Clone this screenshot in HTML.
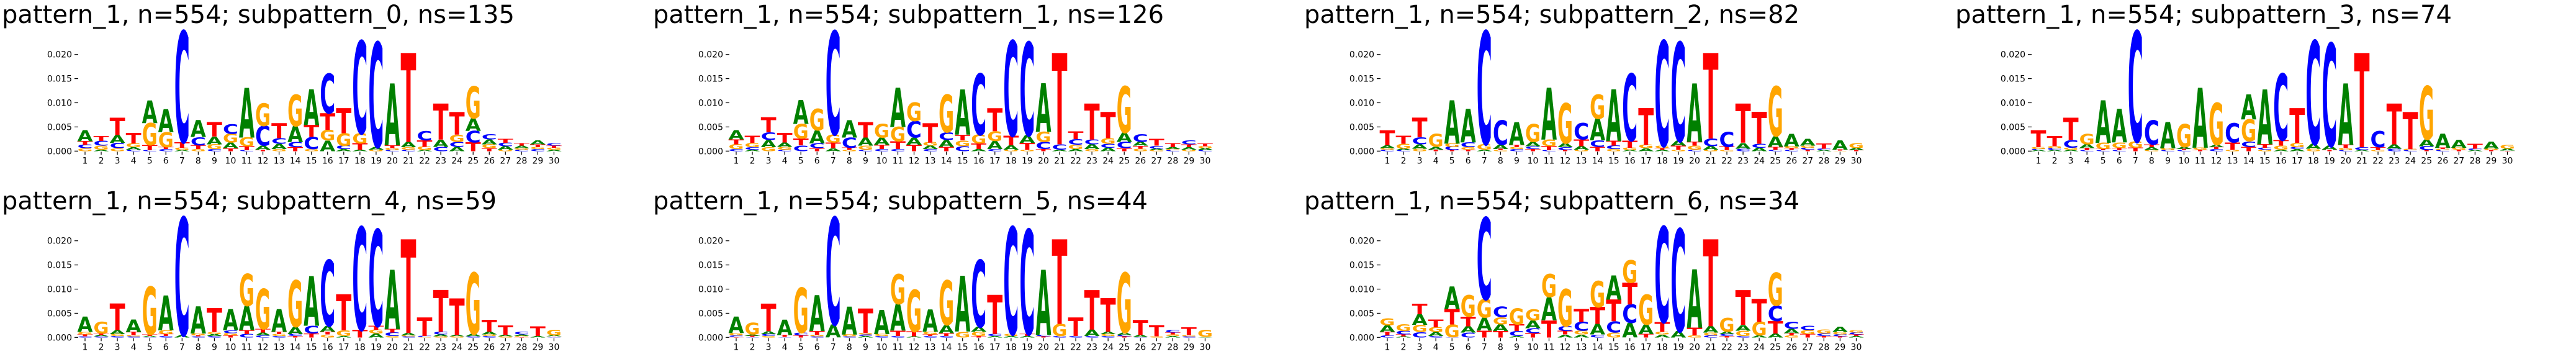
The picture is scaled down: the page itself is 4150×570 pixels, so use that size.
<!DOCTYPE html>
<html><head><meta charset="utf-8">
<style>
html,body{margin:0;padding:0;background:#fff;width:4150px;height:570px;overflow:hidden;}
svg{display:block;overflow:hidden;}
text{font-family:"DejaVu Sans","Liberation Sans",sans-serif;}
</style></head>
<body>
<svg id="chart" width="4150" height="570" viewBox="0 0 4150 570" xmlns="http://www.w3.org/2000/svg"></svg>
<script>
const positions = [1,2,3,4,5,6,7,8,9,10,11,12,13,14,15,16,17,18,19,20,21,22,23,24,25,26,27,28,29,30];
const yTicks = [0, 0.005, 0.010, 0.015, 0.020];
const yTickLabels = ["0.000","0.005","0.010","0.015","0.020"];
const titles = [
 "pattern_1, n=554; subpattern_0, ns=135",
 "pattern_1, n=554; subpattern_1, ns=126",
 "pattern_1, n=554; subpattern_2, ns=82",
 "pattern_1, n=554; subpattern_3, ns=74",
 "pattern_1, n=554; subpattern_4, ns=59",
 "pattern_1, n=554; subpattern_5, ns=44",
 "pattern_1, n=554; subpattern_6, ns=34"
];
// subpattern_0
const p0A=[.0023,.0003,.0016,.0005,.0047,.0048,.0002,.0035,.0016,.0012,.0103,.0008,.0011,.0033,.0074,.0022,.0004,.0003,.0006,.0128,.0011,.0002,.0015,.0009,.0026,.0010,.0007,.0005,.0008,.0003];
const p0C=[.0007,.0010,.0011,.0003,.0002,.0004,.0229,.0017,.0004,.0020,.0002,.0041,.0012,.0011,.0025,.0082,.0007,.0191,.0216,.0002,.0003,.0019,.0009,.0010,.0024,.0011,.0007,.0003,.0004,.0005];
const p0G=[.0006,.0008,.0006,.0008,.0046,.0031,.0005,.0004,.0010,.0018,.0018,.0047,.0004,.0065,.0004,.0022,.0026,.0021,.0003,.0004,.0005,.0007,.0000,.0015,.0066,.0008,.0003,.0003,.0004,.0004];
const p0T=[.0007,.0010,.0036,.0022,.0010,.0004,.0012,.0008,.0030,.0006,.0008,.0003,.0031,.0008,.0025,.0034,.0052,.0013,.0000,.0006,.0184,.0013,.0074,.0047,.0018,.0006,.0008,.0005,.0006,.0004];
// subpattern_1
const p1A=[.0019,.0003,.0015,.0009,.0049,.0027,.0006,.0036,.0017,.0015,.0081,.0015,.0007,.0014,.0094,.0004,.0017,.0009,.0016,.0100,.0003,.0004,.0010,.0007,.0019,.0008,.0003,.0004,.0005,.0004];
const p1C=[.0004,.0005,.0016,.0003,.0012,.0010,.0213,.0021,.0003,.0004,.0004,.0034,.0004,.0016,.0010,.0126,.0004,.0196,.0192,.0015,.0011,.0012,.0010,.0008,.0013,.0016,.0006,.0002,.0008,.0002];
const p1G=[.0010,.0009,.0008,.0006,.0030,.0044,.0017,.0003,.0008,.0028,.0030,.0038,.0007,.0078,.0012,.0018,.0020,.0003,.0003,.0021,.0000,.0009,.0004,.0012,.0096,.0005,.0002,.0002,.0003,.0004];
const p1T=[.0010,.0015,.0031,.0020,.0014,.0006,.0012,.0004,.0032,.0009,.0016,.0013,.0040,.0009,.0012,.0012,.0048,.0020,.0014,.0004,.0189,.0016,.0074,.0054,.0006,.0006,.0014,.0008,.0006,.0006];
// subpattern_2
const p2A=[.0006,.0003,.0009,.0006,.0089,.0069,.0003,.0009,.0047,.0009,.0107,.0008,.0007,.0045,.0107,.0002,.0006,.0003,.0010,.0121,.0007,.0000,.0012,.0007,.0022,.0026,.0014,.0002,.0019,.0004];
const p2C=[.0003,.0002,.0015,.0000,.0007,.0010,.0233,.0051,.0004,.0006,.0002,.0006,.0034,.0013,.0007,.0138,.0000,.0217,.0204,.0003,.0016,.0031,.0005,.0008,.0003,.0003,.0004,.0003,.0000,.0000];
const p2G=[.0003,.0010,.0005,.0027,.0007,.0005,.0012,.0002,.0004,.0037,.0014,.0083,.0003,.0050,.0004,.0005,.0007,.0005,.0003,.0008,.0003,.0002,.0000,.0000,.0103,.0004,.0004,.0000,.0001,.0010];
const p2T=[.0031,.0017,.0040,.0003,.0002,.0003,.0000,.0002,.0005,.0004,.0008,.0002,.0014,.0009,.0010,.0015,.0076,.0003,.0008,.0008,.0177,.0007,.0081,.0066,.0006,.0003,.0003,.0011,.0002,.0002];
// subpattern_3
const p3A=[.0002,.0002,.0003,.0008,.0088,.0069,.0000,.0006,.0054,.0004,.0124,.0005,.0000,.0052,.0114,.0003,.0004,.0010,.0008,.0127,.0002,.0000,.0009,.0000,.0014,.0029,.0017,.0002,.0015,.0004];
const p3C=[.0002,.0004,.0016,.0002,.0002,.0002,.0228,.0050,.0002,.0002,.0000,.0004,.0040,.0011,.0004,.0137,.0004,.0213,.0212,.0002,.0006,.0033,.0005,.0002,.0008,.0002,.0000,.0003,.0000,.0000];
const p3G=[.0004,.0004,.0004,.0022,.0013,.0012,.0013,.0002,.0004,.0048,.0004,.0087,.0003,.0045,.0003,.0008,.0009,.0005,.0000,.0004,.0000,.0002,.0000,.0002,.0110,.0002,.0004,.0000,.0003,.0008];
const p3T=[.0035,.0021,.0046,.0004,.0002,.0004,.0007,.0006,.0000,.0002,.0003,.0004,.0015,.0009,.0007,.0012,.0072,.0000,.0003,.0007,.0195,.0006,.0084,.0077,.0002,.0003,.0003,.0010,.0002,.0001];
// subpattern_4
const p4A=[.0032,.0003,.0008,.0026,.0002,.0072,.0005,.0056,.0004,.0043,.0050,.0006,.0047,.0015,.0103,.0012,.0003,.0000,.0008,.0123,.0005,.0000,.0004,.0003,.0005,.0006,.0003,.0003,.0003,.0002];
const p4C=[.0002,.0002,.0003,.0002,.0001,.0003,.0243,.0002,.0003,.0006,.0007,.0004,.0003,.0004,.0016,.0136,.0000,.0212,.0199,.0007,.0002,.0002,.0006,.0000,.0002,.0003,.0000,.0006,.0000,.0001];
const p4G=[.0005,.0024,.0004,.0002,.0099,.0008,.0000,.0004,.0004,.0005,.0066,.0083,.0004,.0096,.0000,.0006,.0012,.0000,.0008,.0003,.0002,.0001,.0002,.0002,.0127,.0003,.0002,.0002,.0000,.0012];
const p4T=[.0004,.0003,.0055,.0007,.0003,.0004,.0000,.0002,.0049,.0004,.0008,.0007,.0005,.0003,.0008,.0006,.0074,.0016,.0008,.0007,.0194,.0038,.0086,.0076,.0000,.0024,.0020,.0001,.0020,.0001];
// subpattern_5
const p5A=[.0034,.0003,.0006,.0032,.0000,.0074,.0027,.0058,.0003,.0050,.0055,.0002,.0046,.0017,.0115,.0010,.0003,.0003,.0003,.0135,.0000,.0000,.0013,.0005,.0005,.0004,.0000,.0003,.0000,.0001];
const p5C=[.0003,.0001,.0004,.0001,.0006,.0002,.0221,.0002,.0003,.0003,.0003,.0000,.0003,.0003,.0000,.0138,.0004,.0221,.0216,.0003,.0003,.0003,.0003,.0003,.0003,.0001,.0000,.0006,.0002,.0000];
const p5G=[.0005,.0024,.0003,.0000,.0093,.0003,.0000,.0004,.0003,.0004,.0062,.0087,.0006,.0092,.0012,.0009,.0000,.0004,.0000,.0000,.0025,.0000,.0000,.0004,.0124,.0000,.0002,.0003,.0002,.0015];
const p5T=[.0001,.0002,.0057,.0004,.0004,.0008,.0000,.0000,.0051,.0000,.0011,.0010,.0003,.0006,.0000,.0003,.0081,.0000,.0004,.0002,.0175,.0038,.0082,.0069,.0002,.0031,.0023,.0004,.0017,.0000];
// subpattern_6
const p6A=[.0014,.0002,.0022,.0008,.0047,.0013,.0027,.0014,.0003,.0016,.0048,.0006,.0006,.0022,.0050,.0030,.0020,.0006,.0013,.0121,.0013,.0005,.0012,.0004,.0008,.0009,.0000,.0000,.0011,.0003];
const p6C=[.0004,.0007,.0011,.0003,.0001,.0010,.0169,.0022,.0010,.0010,.0000,.0010,.0018,.0006,.0023,.0038,.0000,.0197,.0211,.0000,.0004,.0004,.0003,.0000,.0032,.0015,.0009,.0005,.0004,.0004];
const p6G=[.0015,.0014,.0015,.0010,.0026,.0044,.0038,.0015,.0033,.0023,.0048,.0077,.0008,.0054,.0010,.0047,.0062,.0006,.0000,.0004,.0006,.0028,.0011,.0028,.0068,.0004,.0008,.0008,.0005,.0005];
const p6T=[.0007,.0004,.0022,.0016,.0032,.0020,.0014,.0013,.0014,.0009,.0035,.0007,.0027,.0035,.0045,.0045,.0007,.0020,.0000,.0016,.0180,.0003,.0072,.0048,.0026,.0005,.0007,.0003,.0002,.0003];

const panelA=[p0A,p1A,p2A,p3A,p4A,p5A,p6A];
const panelC=[p0C,p1C,p2C,p3C,p4C,p5C,p6C];
const panelG=[p0G,p1G,p2G,p3G,p4G,p5G,p6G];
const panelT=[p0T,p1T,p2T,p3T,p4T,p5T,p6T];

const NS="http://www.w3.org/2000/svg";
const svg=document.getElementById('chart');
const colors={A:"#008000",C:"#0000ff",G:"#ffa500",T:"#ff0000"};
const colX=[0,1049,2098,3147];
const rowBase=[243.3,543.3];
const pxPerUnit=38.9/0.005;
const posStep=26.05;
const letterW=25;

function mk(tag,attrs,parent){
  const e=document.createElementNS(NS,tag);
  for(const k in attrs) e.setAttribute(k,attrs[k]);
  parent.appendChild(e);
  return e;
}
function yScale(row,v){return rowBase[row]-v*pxPerUnit;}
function xScale(ox,pos){return ox+137+(pos-1)*posStep;}

const titleW=[826,823,798,800,797,797,798];

for(let p=0;p<7;p++){
  const row=p<4?0:1, col=p<4?p:p-4;
  const ox=colX[col];
  const g=mk('g',{},svg);
  
  
  const t=mk('text',{x:ox+3,y:row*300+37,'font-size':40,fill:'#000',textLength:titleW[p],lengthAdjust:'spacingAndGlyphs'},g);
  
  
  t.textContent=titles[p];
  for(let i=0;i<yTicks.length;i++){
    const y=yScale(row,yTicks[i]);
    const tm=mk('line',{x1:ox+120,x2:ox+126,y1:y,y2:y,stroke:'#000','stroke-width':1.2},g);
    
    
    const tl=mk('text',{x:ox+116,y:y+5,'font-size':14,'text-anchor':'end',fill:'#000'},g);
    
    
    tl.textContent=yTickLabels[i];
  }
  for(let i=0;i<positions.length;i++){
    const x=xScale(ox,positions[i]);
    const tm=mk('line',{x1:x,x2:x,y1:rowBase[row]+1,y2:rowBase[row]+6,stroke:'#000','stroke-width':1.2},g);
    
    
    const tl=mk('text',{x:x,y:rowBase[row]+20,'font-size':14,'text-anchor':'middle',fill:'#000'},g);
    
    
    tl.textContent=String(positions[i]);
  }
  for(let i=0;i<positions.length;i++){
    const items=[['A',panelA[p][i]],['C',panelC[p][i]],['G',panelG[p][i]],['T',panelT[p][i]]];
    items.sort((a,b)=>a[1]-b[1]);
    let cum=0;
    const cx=xScale(ox,positions[i]);
    for(const [L,v] of items){
      const yb=yScale(row,cum);
      cum+=v;
      const h=v*pxPerUnit;
      if(h<0.4) continue;
      const lt=mk('text',{x:0,y:0,'font-size':100,'font-weight':'bold',fill:colors[L],
        textLength:letterW,lengthAdjust:'spacingAndGlyphs',
        transform:'translate('+(cx-letterW/2)+','+yb+') scale(1,'+(h/72.9)+')'},g);
      
      
      lt.textContent=L;
    }
  }
}
</script>
</body></html>
